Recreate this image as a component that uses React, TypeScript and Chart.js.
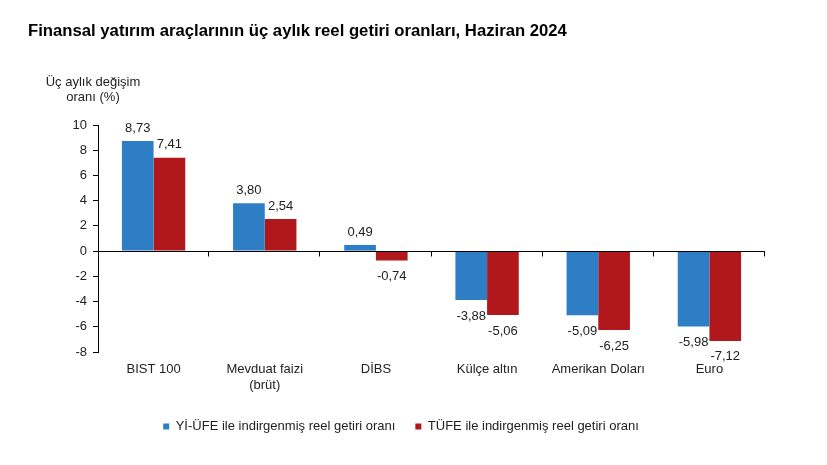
import React, { useEffect, useRef } from "react";
import { Chart, registerables } from "chart.js";

Chart.register(...registerables);

const categories: (string | string[])[] = [
  "BIST 100",
  ["Mevduat faizi", "(brüt)"],
  "DİBS",
  "Külçe altın",
  "Amerikan Doları",
  "Euro",
];
const yiUfeValues = [8.73, 3.8, 0.49, -3.88, -5.09, -5.98];
const tufeValues = [7.41, 2.54, -0.74, -5.06, -6.25, -7.12];
const seriesNames = [
  "Yİ-ÜFE ile indirgenmiş reel getiri oranı",
  "TÜFE ile indirgenmiş reel getiri oranı",
];
const yTicks = [10, 8, 6, 4, 2, 0, -2, -4, -6, -8];
const titleText = "Finansal yatırım araçlarının üç aylık reel getiri oranları, Haziran 2024";
const yTitleLines = ["Üç aylık değişim", "oranı (%)"];

const BLUE = "#2E7EC6";
const RED = "#B1181B";
const FONT = "'Liberation Sans', Arial, sans-serif";

const fmt = (v: number) => v.toFixed(2).replace(".", ",");

const decorPlugin = {
  id: "decor",
  afterDatasetsDraw(chart: any) {
    const { ctx, chartArea, scales } = chart;
    const y0 = scales.y.getPixelForValue(0);
    ctx.save();
    // zero line and category ticks
    ctx.strokeStyle = "#000";
    ctx.lineWidth = 1;
    ctx.beginPath();
    ctx.moveTo(chartArea.left, Math.round(y0) + 0.5);
    ctx.lineTo(chartArea.right, Math.round(y0) + 0.5);
    const n = categories.length;
    const w = (chartArea.right - chartArea.left) / n;
    for (let i = 1; i <= n; i++) {
      const x = Math.round(chartArea.left + i * w) - 0.5;
      ctx.moveTo(x, Math.round(y0) + 0.5);
      ctx.lineTo(x, Math.round(y0) + 5.5);
    }
    ctx.stroke();

    // data labels
    ctx.fillStyle = "#222";
    ctx.font = `13px ${FONT}`;
    ctx.textAlign = "center";
    ctx.textBaseline = "middle";
    chart.data.datasets.forEach((ds: any, di: number) => {
      const meta = chart.getDatasetMeta(di);
      meta.data.forEach((bar: any, i: number) => {
        const v = ds.data[i];
        const y = v >= 0 ? bar.y - 13 : bar.y + 16;
        ctx.fillText(fmt(v), bar.x, y);
      });
    });

    // title
    ctx.fillStyle = "#000";
    ctx.font = `bold 16.7px ${FONT}`;
    ctx.textAlign = "left";
    ctx.fillText(titleText, 28, 31);

    // y axis title
    ctx.fillStyle = "#222";
    ctx.font = `13px ${FONT}`;
    ctx.textAlign = "center";
    ctx.fillText(yTitleLines[0], 93, 82);
    ctx.fillText(yTitleLines[1], 93, 97);
    ctx.restore();
  },
};

export default function App() {
  const ref = useRef<HTMLCanvasElement | null>(null);
  useEffect(() => {
    if (!ref.current) return;
    const chart = new Chart(ref.current, {
      type: "bar",
      data: {
        labels: categories,
        datasets: [
          { label: seriesNames[0], data: yiUfeValues, backgroundColor: BLUE },
          { label: seriesNames[1], data: tufeValues, backgroundColor: RED },
        ],
      },
      options: {
        animation: false,
        responsive: true,
        maintainAspectRatio: false,
        datasets: { bar: { barPercentage: 1, categoryPercentage: 0.57 } },
        layout: { padding: { top: 125, right: 62, left: 37, bottom: 22 } },
        scales: {
          x: {
            grid: { display: false },
            border: { display: false },
            ticks: {
              color: "#222",
              font: { family: FONT, size: 13 },
              padding: 2,
              maxRotation: 0,
              autoSkip: false,
            },
            afterFit: (s: any) => {
              s.height = 48;
            },
          },
          y: {
            min: -8,
            max: 10,
            afterBuildTicks: (s: any) => {
              s.ticks = yTicks.map((v) => ({ value: v }));
            },
            grid: {
              display: true,
              drawOnChartArea: false,
              drawTicks: true,
              tickLength: 5,
              color: "#000",
            },
            border: { display: true, color: "#000" },
            ticks: {
              color: "#222",
              font: { family: FONT, size: 13 },
              padding: 6,
            },
            afterFit: (s: any) => {
              s.width = 61;
            },
          },
        },
        plugins: {
          legend: {
            position: "bottom",
            labels: {
              boxWidth: 6,
              boxHeight: 6,
              padding: 20,
              color: "#222",
              font: { family: FONT, size: 13 },
            },
          },
          title: { display: false },
          tooltip: { enabled: false },
        },
      },
      plugins: [decorPlugin],
    });
    return () => chart.destroy();
  }, []);
  return (
    <div style={{ position: "fixed", left: 0, top: 0, width: 827, height: 465, background: "#fff" }}>
      <canvas ref={ref} />
    </div>
  );
}
